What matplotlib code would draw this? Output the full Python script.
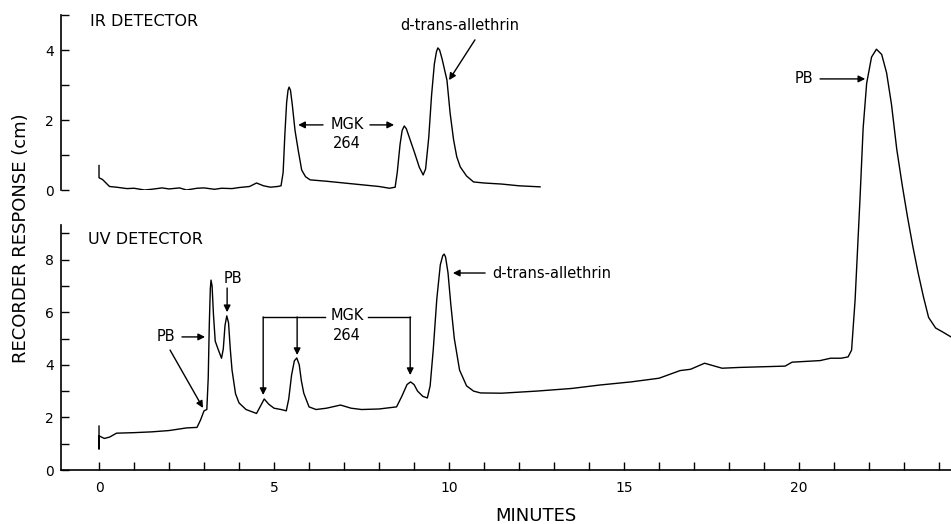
import matplotlib
matplotlib.use('Agg')
from matplotlib import pyplot as plt
from matplotlib.ticker import FixedLocator
import numpy as np

plt.rcParams['font.family'] = ['DejaVu Sans']

# IR detector trace (minutes, cm)
ir_t = [0.0, 0.0, 0.1, 0.3, 0.5, 0.8, 1.0, 1.3, 1.5, 1.8, 2.0, 2.3, 2.5, 2.8, 3.0, 3.3,
        3.5, 3.8, 4.0, 4.3, 4.5, 4.7, 4.9, 5.1, 5.2, 5.26, 5.31, 5.36, 5.4, 5.43, 5.47,
        5.52, 5.6, 5.69, 5.79, 5.9, 6.03, 6.5, 7.0, 7.5, 8.0, 8.3, 8.46, 8.52, 8.6, 8.66,
        8.72, 8.78, 8.9, 9.02, 9.15, 9.26, 9.33, 9.42, 9.5, 9.58, 9.64, 9.68, 9.73, 9.8,
        9.88, 9.94, 10.03, 10.13, 10.22, 10.32, 10.5, 10.7, 11.0, 11.5, 12.0, 12.6]
ir_y = [0.7, 0.35, 0.3, 0.1, 0.08, 0.04, 0.05, 0.0, 0.02, 0.06, 0.03, 0.06, 0.0, 0.05, 0.06, 0.02,
        0.05, 0.04, 0.07, 0.1, 0.2, 0.12, 0.08, 0.1, 0.12, 0.5, 1.6, 2.5, 2.85, 2.94, 2.85,
        2.45, 1.7, 1.14, 0.57, 0.38, 0.29, 0.25, 0.2, 0.15, 0.1, 0.05, 0.08, 0.5, 1.3, 1.7,
        1.83, 1.75, 1.4, 1.05, 0.65, 0.43, 0.6, 1.5, 2.7, 3.6, 3.95, 4.06, 4.0, 3.75,
        3.4, 3.14, 2.2, 1.43, 0.95, 0.66, 0.4, 0.23, 0.2, 0.17, 0.12, 0.09]

# UV detector trace (minutes, cm)
uv_t = [0.0, 0.0, 0.0, 0.15, 0.3, 0.5, 1.0, 1.5, 2.0, 2.5, 2.8, 2.9, 3.0, 3.08, 3.12, 3.15,
        3.18, 3.2, 3.23, 3.27, 3.32, 3.4, 3.5, 3.55, 3.6, 3.65, 3.7, 3.75, 3.8, 3.9, 4.0,
        4.2, 4.5, 4.6, 4.72, 4.85, 5.0, 5.2, 5.35, 5.42, 5.5, 5.58, 5.65, 5.72, 5.78, 5.85,
        6.0, 6.2, 6.5, 6.9, 7.2, 7.5, 8.0, 8.5, 8.65, 8.8, 8.9, 9.0, 9.1, 9.25, 9.38, 9.46,
        9.55, 9.65, 9.75, 9.82, 9.86, 9.9, 9.97, 10.05, 10.15, 10.3, 10.5, 10.7, 10.9,
        11.5, 12.5, 13.5, 14.3, 15.2, 16.0, 16.6, 16.9, 17.3, 17.8, 18.3, 19.6, 19.8, 20.6,
        20.9, 21.2, 21.4, 21.5, 21.6, 21.74, 21.83, 21.93, 22.07, 22.21, 22.36, 22.5,
        22.64, 22.79, 22.95, 23.1, 23.25, 23.4, 23.55, 23.7, 23.9, 24.1, 24.34]
uv_y = [1.67, 0.8, 1.3, 1.2, 1.25, 1.4, 1.42, 1.45, 1.5, 1.6, 1.62, 1.9, 2.25, 2.3, 3.5, 5.5,
        6.9, 7.22, 7.0, 5.9, 4.9, 4.6, 4.25, 4.6, 5.5, 5.86, 5.6, 4.6, 3.8, 2.9, 2.55,
        2.3, 2.15, 2.4, 2.7, 2.5, 2.35, 2.3, 2.25, 2.7, 3.6, 4.15, 4.26, 4.0, 3.4, 2.92,
        2.4, 2.3, 2.35, 2.47, 2.35, 2.3, 2.32, 2.4, 2.8, 3.25, 3.35, 3.25, 3.0, 2.8, 2.74, 3.2,
        4.6, 6.5, 7.8, 8.15, 8.21, 8.1, 7.5, 6.3, 5.0, 3.8, 3.2, 3.0, 2.93,
        2.92, 3.0, 3.1, 3.23, 3.35, 3.49, 3.78, 3.83, 4.06, 3.87, 3.9, 3.95, 4.1, 4.16,
        4.25, 4.25, 4.3, 4.56, 6.46, 10.3, 13.0, 14.7, 15.7, 16.0, 15.8, 15.1,
        13.9, 12.2, 10.8, 9.6, 8.5, 7.5, 6.6, 5.8, 5.4, 5.25, 5.06]

x_labels = [0, 5, 10, 15, 20]
uv_labels = [0, 2, 4, 6, 8]
ir_labels = [0, 2, 4]

W, H = 951, 524
fig = plt.figure(figsize=(W / 100, H / 100), dpi=100)

ax_uv = fig.add_axes([61 / W, 54 / H, 890 / W, 470 / H])
ax_ir = fig.add_axes([61 / W, (H - 190) / H, 890 / W, 175 / H])
ax_ir.patch.set_alpha(0)

xlim = (-1.086, 24.34)
for ax in (ax_uv, ax_ir):
    ax.set_xlim(*xlim)
    for s in ('top', 'right'):
        ax.spines[s].set_visible(False)
    for s in ('left', 'bottom'):
        ax.spines[s].set_linewidth(1.2)
    ax.tick_params(which='both', direction='in', length=6, width=1.0, labelsize=10)

ax_uv.set_ylim(0, 470 / 26.3)
ax_uv.spines['left'].set_bounds(0, 9.3)
ax_uv.yaxis.set_major_locator(FixedLocator(uv_labels))
ax_uv.yaxis.set_minor_locator(FixedLocator([1, 3, 5, 7, 9]))
ax_uv.xaxis.set_major_locator(FixedLocator(x_labels))
ax_uv.xaxis.set_minor_locator(FixedLocator(range(0, 25)))
ax_uv.tick_params(axis='x', which='both', pad=8)
ax_uv.tick_params(axis='y', pad=5)

ax_ir.set_ylim(0, 5)
ax_ir.spines['bottom'].set_visible(False)
ax_ir.spines['left'].set_bounds(0, 5)
ax_ir.set_xticks([])
ax_ir.yaxis.set_major_locator(FixedLocator(ir_labels))
ax_ir.yaxis.set_minor_locator(FixedLocator([1, 3, 5]))
ax_ir.tick_params(axis='y', pad=5)

ax_uv.plot(uv_t, uv_y, color='black', lw=1.0)
ax_ir.plot(ir_t, ir_y, color='black', lw=1.0)

arr = dict(arrowstyle='-|>', color='black', lw=1.0, mutation_scale=10, shrinkA=0, shrinkB=0)
fs = 10.5

# IR panel labels
ax_ir.text(-0.26, 4.8, 'IR DETECTOR', fontsize=11.5, va='center', ha='left')
ax_ir.text(7.09, 1.86, 'MGK', fontsize=fs, ha='center', va='center')
ax_ir.text(7.09, 1.34, '264', fontsize=fs, ha='center', va='center')
ax_ir.annotate('', xy=(5.69, 1.86), xytext=(6.4, 1.86), arrowprops=arr)
ax_ir.annotate('', xy=(8.43, 1.86), xytext=(7.74, 1.86), arrowprops=arr)
ax_ir.text(10.31, 4.69, 'd-trans-allethrin', fontsize=fs, ha='center', va='center')
ax_ir.annotate('', xy=(10.0, 3.14), xytext=(10.74, 4.29), arrowprops=arr)

# UV panel labels
ax_uv.text(-0.31, 8.75, 'UV DETECTOR', fontsize=11.5, va='center', ha='left')
ax_uv.text(1.91, 5.06, 'PB', fontsize=fs, ha='center', va='center')
ax_uv.annotate('', xy=(3.03, 5.06), xytext=(2.37, 5.06), arrowprops=arr)
ax_uv.annotate('', xy=(2.97, 2.36), xytext=(2.03, 4.56), arrowprops=arr)
ax_uv.text(3.83, 7.3, 'PB', fontsize=fs, ha='center', va='center')
ax_uv.annotate('', xy=(3.66, 6.0), xytext=(3.66, 6.92), arrowprops=arr)

ax_uv.plot([4.69, 6.46], [5.82, 5.82], color='black', lw=1.0)
ax_uv.plot([7.69, 8.89], [5.82, 5.82], color='black', lw=1.0)
ax_uv.annotate('', xy=(4.69, 2.85), xytext=(4.69, 5.82), arrowprops=arr)
ax_uv.annotate('', xy=(5.66, 4.37), xytext=(5.66, 5.82), arrowprops=arr)
ax_uv.annotate('', xy=(8.89, 3.61), xytext=(8.89, 5.82), arrowprops=arr)
ax_uv.text(7.09, 5.89, 'MGK', fontsize=fs, ha='center', va='center')
ax_uv.text(7.09, 5.13, '264', fontsize=fs, ha='center', va='center')

ax_uv.text(11.23, 7.49, 'd-trans-allethrin', fontsize=fs, ha='left', va='center')
ax_uv.annotate('', xy=(10.11, 7.49), xytext=(11.03, 7.49), arrowprops=arr)
ax_uv.text(20.14, 14.87, 'PB', fontsize=fs, ha='center', va='center')
ax_uv.annotate('', xy=(21.89, 14.87), xytext=(20.6, 14.87), arrowprops=arr)

fig.text(21 / W, 1 - 238 / H, 'RECORDER RESPONSE (cm)', rotation=90, fontsize=13,
         ha='center', va='center')
fig.text(536 / W, 1 - 516 / H, 'MINUTES', fontsize=13, ha='center', va='center')

fig.savefig('out.png', dpi=100)
